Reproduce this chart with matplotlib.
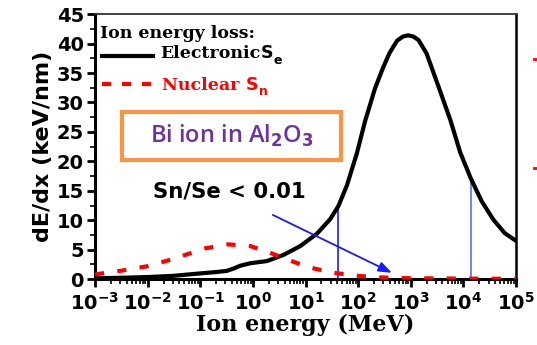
import numpy as np
import matplotlib.pyplot as plt
from matplotlib.lines import Line2D
from matplotlib.patches import Rectangle
from matplotlib.ticker import FixedLocator, FixedFormatter, LogLocator, MultipleLocator, NullFormatter

# Ion energy (MeV) and stopping powers (keV/nm)
energy_e = [1e-3, 3e-3, 1e-2, 3e-2, 0.1, 0.2, 0.32, 0.43, 0.57, 0.9, 1.84, 3.8, 7.9,
            16.4, 29.5, 42, 61, 94, 135, 209, 300, 394, 550, 710, 890, 1120, 1400,
            2000, 3390, 5650, 8700, 13800, 22300, 37000, 61000, 1e5]
s_elec = [0.15, 0.22, 0.35, 0.55, 0.97, 1.2, 1.4, 1.8, 2.26, 2.7, 3.06, 4.1, 5.6,
          7.7, 10.2, 12.4, 15.9, 21.3, 26.8, 32.4, 36.0, 38.4, 40.5, 41.2, 41.4, 41.2,
          40.6, 38.3, 32.6, 27.0, 21.5, 17.1, 13.2, 10.1, 7.8, 6.5]

energy_n = [1e-3, 3e-3, 1e-2, 3e-2, 0.12, 0.34, 0.9, 2.1, 5.2, 13, 34, 100, 230,
            1000, 1e4, 1e5]
s_nucl = [0.8, 1.4, 2.2, 3.4, 5.2, 5.9, 5.6, 4.5, 3.1, 1.9, 1.07, 0.55, 0.3,
          0.15, 0.08, 0.05]

# blue marker lines and arrow
vline_x = [42, 13800]
vline_top = [12.4, 17.1]
vline_col = ["#1a1aff", "#5470ff"]
arrow_start = (2.39, 10.9)
arrow_end = (437, 1.07)

xticks = [1e-3, 1e-2, 1e-1, 1e0, 1e1, 1e2, 1e3, 1e4, 1e5]
xlabels = [r"$\mathbf{10^{-3}}$", r"$\mathbf{10^{-2}}$", r"$\mathbf{10^{-1}}$",
           r"$\mathbf{10^{0}}$", r"$\mathbf{10^{1}}$", r"$\mathbf{10^{2}}$",
           r"$\mathbf{10^{3}}$", r"$\mathbf{10^{4}}$", r"$\mathbf{10^{5}}$"]

plt.rcParams["mathtext.fontset"] = "custom"
plt.rcParams["mathtext.bf"] = "DejaVu Sans:bold"
plt.rcParams["mathtext.rm"] = "DejaVu Sans:bold"

fig = plt.figure(figsize=(5.37, 3.45), dpi=100)
ax = fig.add_axes([0.177, 0.191, 0.784, 0.768])

ax.plot(energy_e, s_elec, color="black", lw=3, solid_joinstyle="round", zorder=3)
ax.plot(energy_n, s_nucl, color="#ff0000", lw=3, dashes=(2.2, 3.2), zorder=3)

for xv, yt, c in zip(vline_x, vline_top, vline_col):
    ax.plot([xv, xv], [0, yt], color=c, lw=1.2, zorder=2)

ax.annotate("", xy=arrow_end, xytext=arrow_start,
            arrowprops=dict(arrowstyle="-|>,head_length=0.8,head_width=0.3",
                            color="#1a1aff", lw=1.3, shrinkA=0, shrinkB=0), zorder=4)

ax.set_xscale("log")
ax.set_xlim(1e-3, 1e5)
ax.set_ylim(0, 45)

ax.xaxis.set_major_locator(FixedLocator(xticks))
ax.xaxis.set_major_formatter(FixedFormatter(xlabels))
ax.xaxis.set_minor_locator(LogLocator(base=10, subs=np.arange(2, 10), numticks=20))
ax.xaxis.set_minor_formatter(NullFormatter())
ax.yaxis.set_major_locator(MultipleLocator(5))
ax.yaxis.set_minor_locator(MultipleLocator(2.5))

ax.tick_params(axis="both", which="major", direction="out", length=6, width=2,
               labelsize=14, pad=2)
ax.tick_params(axis="both", which="minor", direction="out", length=3.5, width=1.2)
ax.tick_params(axis="x", which="major", pad=3)
for lab in ax.get_yticklabels():
    lab.set_fontweight("bold")
    lab.set_family("DejaVu Sans")

ax.spines["left"].set_linewidth(2.2)
ax.spines["bottom"].set_linewidth(2.2)
ax.spines["right"].set_linewidth(1.8)
ax.spines["top"].set_linewidth(1.3)
ax.spines["top"].set_color("#333333")

ax.set_xlabel("Ion energy (MeV)", family="DejaVu Serif", fontweight="bold",
              fontsize=16, labelpad=0)
ax.set_ylabel("dE/dx (keV/nm)", family="DejaVu Sans", fontweight="bold",
              fontsize=16, labelpad=3)

# legend drawn by hand
tr = ax.transAxes
fs = 12.5
ax.text(0.012, 0.928, "Ion energy loss:", transform=tr, family="DejaVu Serif",
        fontweight="bold", fontsize=fs, va="center", ha="left")
ax.add_line(Line2D([0.017, 0.138], [0.843, 0.843], transform=tr, color="black", lw=3))
t1 = ax.text(0.155, 0.85, "Electronic", transform=tr, family="DejaVu Serif",
             fontweight="bold", fontsize=fs, va="center", ha="left")
t2 = ax.annotate("S", xy=(1, 0), xycoords=t1, va="bottom", ha="left",
                 family="DejaVu Sans", fontweight="bold", fontsize=fs)
ax.annotate("e", xy=(1, 0), xycoords=t2, xytext=(0.5, -3), textcoords="offset points",
            va="bottom", ha="left", family="DejaVu Sans", fontweight="bold", fontsize=9)

ax.add_line(Line2D([0.017, 0.138], [0.736, 0.736], transform=tr, color="#ff0000",
                   lw=3, dashes=(2.2, 2.6)))
t3 = ax.text(0.16, 0.73, "Nuclear ", transform=tr, family="DejaVu Serif",
             fontweight="bold", fontsize=fs, va="center", ha="left", color="#ff0000")
t4 = ax.annotate("S", xy=(1, 0), xycoords=t3, va="bottom", ha="left", color="#ff0000",
                 family="DejaVu Sans", fontweight="bold", fontsize=fs)
ax.annotate("n", xy=(1, 0), xycoords=t4, xytext=(0.5, -3), textcoords="offset points",
            va="bottom", ha="left", color="#ff0000", family="DejaVu Sans",
            fontweight="bold", fontsize=9)

# orange box with material label
ax.add_patch(Rectangle((0.064, 0.449), 0.52, 0.181, transform=tr, fill=False,
                       edgecolor="#f79646", lw=3, zorder=5))
ax.text(0.325, 0.54, r"Bi ion in Al$_2$O$_3$", transform=tr, family="Open Sans",
        fontweight="semibold", fontsize=17, color="#7030a0", ha="center", va="center")

ax.text(0.137, 0.332, "Sn/Se < 0.01", transform=tr, family="DejaVu Sans",
        fontweight="bold", fontsize=15.3, ha="left", va="center")

# stray marks outside the frame on the right
for yy in [0.829, 0.513]:
    fig.add_artist(Line2D([0.995, 0.999], [yy, yy], color="#ff0000", lw=2))

fig.savefig("out.png", dpi=100)
